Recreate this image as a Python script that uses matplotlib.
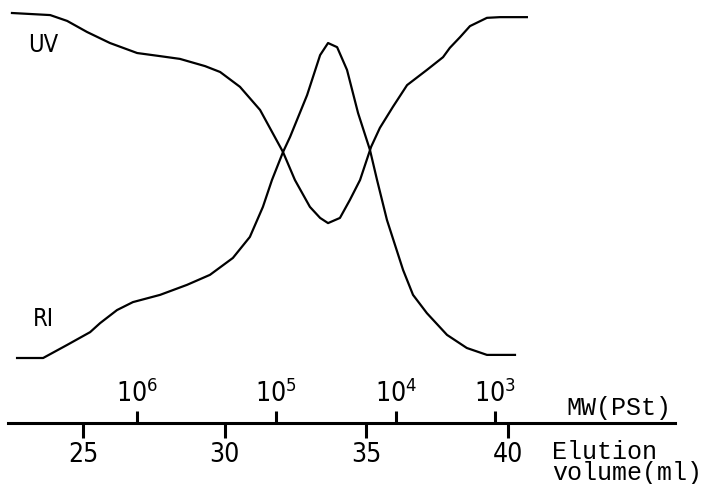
import numpy as np
import matplotlib
matplotlib.use("Agg")
import matplotlib.pyplot as plt

# elution volume (ml) and relative detector response (0-100)
uv_volume = [22.49, 23.84, 24.44, 25.14, 25.95, 26.91, 27.72, 28.42, 29.31, 29.84,
             30.54, 31.25, 32.06, 32.48, 33.01, 33.37, 33.65, 34.07, 34.42, 34.78,
             35.17, 35.48, 35.94, 36.44, 37.14, 37.71, 37.95, 38.31, 38.66, 39.26,
             39.72, 40.67]
uv_signal = [100.0, 99.4, 97.7, 94.5, 91.3, 88.4, 87.5, 86.7, 84.6, 82.9,
             78.6, 71.9, 59.7, 51.6, 43.8, 40.6, 39.1, 40.6, 45.8, 51.6,
             61.2, 66.7, 72.8, 79.1, 83.5, 87.2, 89.9, 93.0, 96.2, 98.6,
             98.8, 98.8]

ri_volume = [22.67, 23.59, 24.44, 25.25, 25.60, 26.20, 26.76, 27.72, 28.67, 29.48,
             30.29, 30.89, 31.35, 31.67, 32.06, 32.31, 32.91, 33.37, 33.65, 33.97,
             34.32, 34.71, 35.13, 35.38, 35.73, 36.30, 36.65, 37.14, 37.85, 38.55,
             39.26, 40.25]
ri_signal = [0.0, 0.0, 3.8, 7.5, 10.1, 13.9, 16.2, 18.3, 21.2, 24.1,
             29.0, 35.1, 43.8, 51.6, 59.7, 64.1, 76.2, 87.8, 91.3, 90.1,
             83.5, 71.0, 60.3, 51.6, 40.0, 25.5, 18.3, 13.0, 6.7, 2.9,
             0.9, 0.9]

# axis ticks
elution_ticks = [25, 30, 35, 40]
mw_ticks = [26.91, 31.81, 36.05, 39.54]   # volume where PSt standard elutes
mw_exponents = [6, 5, 4, 3]

mono = ['Liberation Mono', 'DejaVu Sans Mono']

plt.rcParams['font.family'] = ['DejaVu Sans']
plt.rcParams['font.stretch'] = 'condensed'

fig = plt.figure(figsize=(7.13, 4.84), dpi=100)
ax = fig.add_axes([8 / 713, 61 / 484, 667 / 713, 423 / 484])

ax.plot(uv_volume, uv_signal, color='black', lw=1.6, solid_joinstyle='round')
ax.plot(ri_volume, ri_signal, color='black', lw=1.6, solid_joinstyle='round')

ax.set_xlim(22.35, 45.9)
ax.set_ylim(-18.84, 103.77)

for side in ['top', 'left', 'right']:
    ax.spines[side].set_visible(False)
ax.spines['bottom'].set_linewidth(2.2)
ax.set_yticks([])

ax.set_xticks(elution_ticks)
ax.set_xticklabels([str(t) for t in elution_ticks])
ax.tick_params(axis='x', direction='out', length=11, width=2.2, pad=3, labelsize=19)

# molecular weight scale above the same line
sec = ax.secondary_xaxis(0)
sec.set_alignment('top')
sec.spines['top'].set_visible(False)
sec.spines['bottom'].set_visible(False)
sec.set_xticks(mw_ticks)
sec.set_xticklabels([r'$\mathregular{10^{%d}}$' % e for e in mw_exponents])
sec.tick_params(axis='x', direction='out', length=9, width=2.2, pad=2, labelsize=19)

ax.text(23.6, 90.6, 'UV', fontsize=17, ha='center', va='center')
ax.text(23.6, 11.3, 'RI', fontsize=17, ha='center', va='center')

ax.text(42.08, -16.5, 'MW(PSt)', family=mono, fontsize=18, ha='left',
        va='baseline', clip_on=False)
ax.text(41.55, -23.8, 'Elution\nvolume(ml)', family=mono, fontsize=18, ha='left',
        va='top', linespacing=0.85, clip_on=False)

fig.savefig('out.png', dpi=100)
